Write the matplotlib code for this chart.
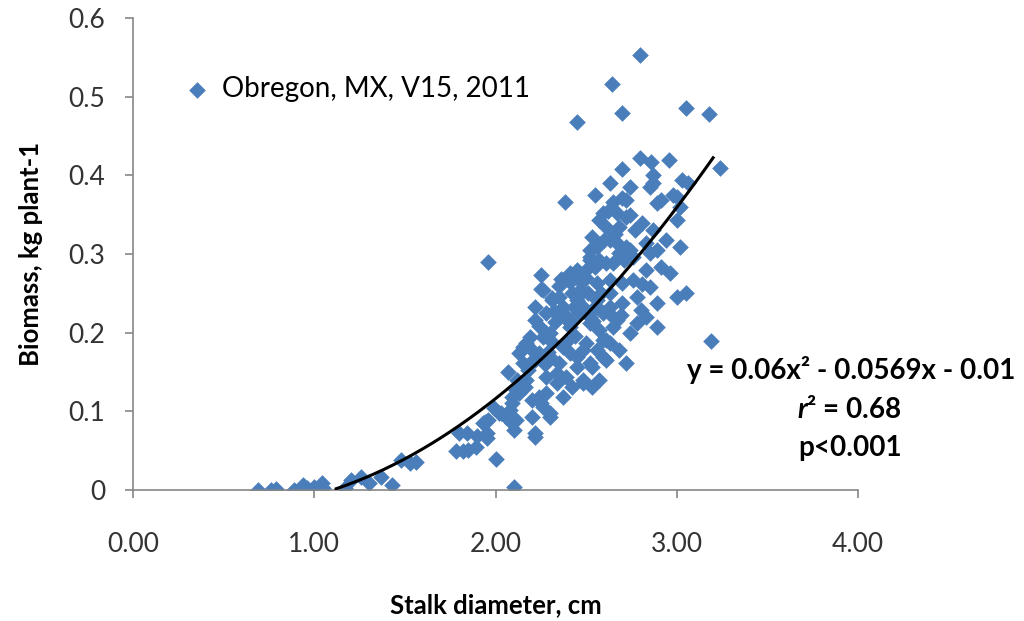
import numpy as np
import matplotlib
matplotlib.use("Agg")
import matplotlib.pyplot as plt

plt.rcParams['font.family'] = ['Lato', 'DejaVu Sans']
plt.rcParams['mathtext.fontset'] = 'custom'
plt.rcParams['mathtext.it'] = 'Lato:italic:bold'
plt.rcParams['mathtext.rm'] = 'Lato:bold'

# datos: diametro del tallo (cm) y biomasa (kg planta-1)
diametro = [
    2.795, 2.64, 2.70, 3.05, 3.18, 2.45, 1.96, 2.385, 3.19, 3.24, 2.10, 2.00,
    2.795, 2.86, 2.955, 2.70, 2.87, 2.87, 2.63, 2.74, 3.03, 3.06, 2.85, 2.91,
    2.65, 2.70, 2.98, 3.02, 2.59, 2.67, 2.74, 2.81, 2.87, 2.61, 2.68, 3.00,
    2.94, 3.02, 2.63, 2.72, 2.83, 2.89, 2.55, 2.72, 2.89, 3.00, 2.57, 2.72,
    2.53, 2.67, 2.74, 2.52, 2.56,
    2.52, 2.61, 2.68, 2.85, 2.91, 2.96, 2.83, 2.76, 2.70, 2.63, 2.56, 2.46,
    2.41, 2.45, 2.56, 2.63, 2.70, 2.78, 2.85, 2.89, 3.05, 3.00, 2.83, 2.89,
    2.78, 2.74, 2.67, 2.59, 2.52, 2.63, 2.68, 2.59, 2.72, 2.48, 2.45,
    2.25, 2.25, 2.35, 2.41, 2.45, 2.50, 2.31, 2.22, 2.28, 2.37, 2.45, 2.52,
    2.51, 2.56, 2.50, 2.57, 2.65, 2.35, 2.42, 2.41, 2.30, 2.53, 2.63, 2.65,
    2.80, 2.26, 2.45, 2.31,
    2.37, 2.41, 2.28, 2.19, 2.15, 2.24, 2.19, 2.37, 2.45, 2.50, 2.53, 2.59,
    2.17, 2.34, 2.48, 2.57, 2.11, 2.37,
    2.22, 2.35, 2.41, 2.46, 2.26, 2.31, 2.17, 2.13, 2.20, 2.15, 2.22, 2.07,
    2.30, 2.35, 2.41, 2.52, 2.56, 2.61, 2.57, 2.61, 2.52, 2.65, 2.28, 2.34,
    2.39, 2.42, 2.48, 2.53, 2.15, 2.09, 2.20, 2.26, 2.24, 2.08, 2.02, 2.11,
    2.30, 2.22, 1.96, 1.93, 1.95,
    0.69, 0.76, 0.79, 0.885, 0.94, 0.96, 1.00, 1.04, 1.05, 1.17, 1.20, 1.26,
    1.30, 1.37, 1.43, 1.48, 1.53, 1.56, 1.78, 1.82, 1.85, 1.89, 1.80, 1.84,
    1.90, 1.94, 1.95, 1.99, 2.03, 2.06, 2.09, 2.10, 2.09, 2.13, 2.16, 2.22,
    2.20, 2.25, 2.28, 2.30,
    2.24, 2.29, 2.33, 2.39, 2.44, 2.48, 2.55, 2.60, 2.66, 2.71, 2.77, 2.62,
    2.58, 2.54, 2.47, 2.43, 2.36, 2.32, 2.27, 2.18, 2.12, 2.69, 2.76, 2.81,
]
biomasa = [
    0.553, 0.516, 0.479, 0.486, 0.478, 0.468, 0.290, 0.366, 0.189, 0.409, 0.004, 0.040,
    0.422, 0.417, 0.420, 0.408, 0.400, 0.390, 0.390, 0.385, 0.394, 0.390, 0.385, 0.369,
    0.366, 0.371, 0.375, 0.360, 0.352, 0.352, 0.350, 0.339, 0.330, 0.334, 0.334, 0.343,
    0.318, 0.309, 0.318, 0.309, 0.314, 0.305, 0.375, 0.369, 0.365, 0.373, 0.343, 0.347,
    0.322, 0.314, 0.305, 0.305, 0.309,
    0.296, 0.288, 0.301, 0.301, 0.283, 0.276, 0.280, 0.267, 0.263, 0.267, 0.263, 0.267,
    0.276, 0.245, 0.242, 0.250, 0.238, 0.245, 0.258, 0.238, 0.250, 0.245, 0.220, 0.207,
    0.212, 0.200, 0.216, 0.225, 0.220, 0.187, 0.178, 0.169, 0.161, 0.178, 0.156,
    0.273, 0.255, 0.259, 0.264, 0.277, 0.269, 0.244, 0.233, 0.225, 0.233, 0.242, 0.292,
    0.250, 0.233, 0.280, 0.292, 0.288, 0.245, 0.250, 0.216, 0.200, 0.229, 0.233, 0.207,
    0.229, 0.254, 0.280, 0.242,
    0.225, 0.207, 0.200, 0.194, 0.182, 0.174, 0.161, 0.182, 0.169, 0.187, 0.156, 0.191,
    0.140, 0.149, 0.136, 0.140, 0.127, 0.118,
    0.216, 0.220, 0.212, 0.225, 0.194, 0.188, 0.187, 0.174, 0.178, 0.161, 0.165, 0.150,
    0.169, 0.161, 0.174, 0.161, 0.178, 0.165, 0.203, 0.191, 0.212, 0.220, 0.144, 0.136,
    0.144, 0.131, 0.140, 0.131, 0.131, 0.118, 0.114, 0.105, 0.118, 0.102, 0.098, 0.089,
    0.093, 0.072, 0.089, 0.085, 0.072,
    0.000, 0.000, 0.001, 0.000, 0.006, 0.003, 0.004, 0.009, 0.003, 0.003, 0.013, 0.017,
    0.009, 0.017, 0.006, 0.038, 0.034, 0.036, 0.050, 0.049, 0.051, 0.055, 0.072, 0.072,
    0.068, 0.087, 0.066, 0.104, 0.098, 0.093, 0.085, 0.076, 0.110, 0.123, 0.131, 0.067,
    0.093, 0.110, 0.123, 0.098,
    0.208, 0.176, 0.213, 0.188, 0.196, 0.232, 0.284, 0.318, 0.325, 0.292, 0.330, 0.355,
    0.250, 0.215, 0.255, 0.232, 0.268, 0.228, 0.160, 0.152, 0.140, 0.222, 0.296, 0.262,
]

# linea de tendencia polinomica (coeficientes del grafico)
coef = [0.06, -0.0569, -0.01]
x_tend = [1.12, 3.2]

xticks = [0, 1, 2, 3, 4]
yticks = [0, 0.1, 0.2, 0.3, 0.4, 0.5, 0.6]

azul = '#4A7EBB'
gris = '#868686'

fig = plt.figure(figsize=(10.24, 6.21), dpi=100)
ax = fig.add_axes([0.130, 0.211, 0.708, 0.760])

ax.scatter(diametro, biomasa, marker='D', s=72, color=azul, linewidths=0,
           label='Obregon, MX, V15, 2011', zorder=2)

xs = np.linspace(x_tend[0], x_tend[1], 200)
ax.plot(xs, np.polyval(coef, xs), color='black', lw=2.2, zorder=3)

ax.set_xlim(0, 4)
ax.set_ylim(0, 0.6)
ax.set_xticks(xticks)
ax.set_xticklabels(['%.2f' % t for t in xticks])
ax.set_yticks(yticks)
ax.set_yticklabels(['0'] + ['%.1f' % t for t in yticks[1:]])

for lado in ['top', 'right']:
    ax.spines[lado].set_visible(False)
for lado in ['left', 'bottom']:
    ax.spines[lado].set_color(gris)
    ax.spines[lado].set_linewidth(1.2)
ax.tick_params(direction='out', length=6, width=1.2, color=gris,
               labelsize=19, labelcolor='#333333')
ax.tick_params(axis='x', pad=24)
ax.tick_params(axis='y', pad=14)

ax.set_xlabel('Stalk diameter, cm', fontsize=18.5, fontweight='bold', labelpad=26)
ax.set_ylabel('Biomass, kg plant-1', fontsize=18.5, fontweight='bold', labelpad=18)

ax.legend(loc='upper left', bbox_to_anchor=(0.035, 0.90), frameon=False,
          fontsize=20, handletextpad=-0.1, scatterpoints=1, markerscale=1.0,
          borderaxespad=0)

fig.text(0.831, 1 - 370 / 621, 'y = 0.06x² - 0.0569x - 0.01', ha='center', va='center',
         fontsize=20, fontweight='bold')
fig.text(0.829, 1 - 410 / 621, r'$r$² = 0.68', ha='center', va='center',
         fontsize=20, fontweight='bold')
fig.text(0.830, 1 - 448 / 621, 'p<0.001', ha='center', va='center',
         fontsize=20, fontweight='bold')

fig.savefig('out.png', dpi=100)
